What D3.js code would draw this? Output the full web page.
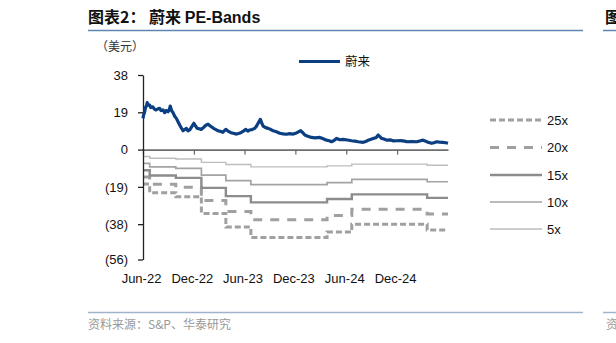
<!DOCTYPE html>
<html><head><meta charset="utf-8">
<script src="https://cdn.jsdelivr.net/npm/d3@7"></script>
<style>
html,body{margin:0;padding:0;background:#fff;}
svg{display:block;}
</style></head>
<body><svg id="c" width="616" height="343"></svg>
<script>
// ---- data ----
const priceDates = ["2022-06-01","2022-06-03","2022-06-07","2022-06-10","2022-06-14","2022-06-16","2022-06-21","2022-06-25","2022-06-29","2022-07-06","2022-07-12","2022-07-18","2022-07-25","2022-07-31","2022-08-05","2022-08-12","2022-08-18","2022-08-24","2022-08-30","2022-09-04","2022-09-07","2022-09-12","2022-09-17","2022-09-23","2022-09-29","2022-10-05","2022-10-11","2022-10-17","2022-10-23","2022-10-28","2022-11-04","2022-11-10","2022-11-16","2022-11-23","2022-12-01","2022-12-07","2022-12-13","2022-12-20","2022-12-27","2023-01-05","2023-01-13","2023-01-21","2023-01-27","2023-02-02","2023-02-10","2023-02-18","2023-02-26","2023-03-06","2023-03-15","2023-03-20","2023-03-26","2023-04-03","2023-04-13","2023-04-22","2023-05-01","2023-05-10","2023-05-19","2023-05-28","2023-06-06","2023-06-13","2023-06-20","2023-06-28","2023-07-08","2023-07-14","2023-07-20","2023-07-28","2023-08-02","2023-08-07","2023-08-16","2023-08-25","2023-09-04","2023-09-12","2023-09-24","2023-10-06","2023-10-18","2023-10-30","2023-11-10","2023-11-23","2023-12-05","2023-12-20","2023-12-28","2024-01-04","2024-01-15","2024-01-28","2024-02-10","2024-02-27","2024-03-08","2024-03-22","2024-04-01","2024-04-09","2024-04-18","2024-04-27","2024-05-09","2024-05-21","2024-06-05","2024-06-20","2024-07-02","2024-07-14","2024-08-01","2024-08-10","2024-08-19","2024-09-06","2024-09-16","2024-09-24","2024-09-30","2024-10-06","2024-10-15","2024-10-24","2024-11-08","2024-11-18","2024-11-30","2024-12-14","2024-12-28","2025-01-05","2025-01-20","2025-02-10","2025-02-20","2025-03-04","2025-03-14","2025-03-22","2025-04-04","2025-04-12","2025-04-22","2025-05-02","2025-05-15","2025-05-25","2025-06-02"];
const priceValues = [15.9,17.5,19.3,21.5,22.4,23.9,22.6,22.7,21.4,21.8,20.6,20.2,20.8,21.0,19.9,20.2,18.8,19.9,19.3,20.5,22.2,19.8,18.8,17.0,15.9,14.2,12.5,11.0,9.6,10.1,10.8,9.5,10.0,11.6,13.4,12.0,10.8,10.6,10.3,11.3,12.4,13.0,12.2,11.6,10.8,10.2,9.6,9.3,8.8,9.5,10.3,9.4,8.6,8.3,7.9,8.2,8.6,9.4,10.3,9.4,10.0,10.2,10.8,11.9,13.4,15.4,13.6,12.0,11.2,10.8,10.2,9.6,9.1,8.3,8.0,7.8,8.1,7.9,8.5,9.6,8.6,7.4,6.8,6.2,6.0,6.2,5.6,4.8,4.5,4.0,4.6,5.7,5.0,5.2,4.9,4.5,4.3,4.0,3.7,4.1,4.8,5.7,6.0,7.4,6.6,5.7,5.4,4.8,4.9,4.4,4.5,4.6,4.3,4.0,4.1,4.0,4.4,4.8,4.3,3.7,3.2,3.5,4.0,3.8,3.7,3.5,3.2];

// band step dates (each value holds from its date until the next)
const bandDates = ["2022-06-01","2022-06-25","2022-09-27","2022-12-28","2023-03-26","2023-06-24","2024-03-24","2024-06-21","2025-03-19","2025-06-02"];
const band5x  = [-3.5,-4.4,-4.8,-6.5,-7.6,-8.8,-8.3,-7.4,-8.0,-8.0];
const band10x = [-7.0,-8.8,-9.6,-13.0,-15.8,-17.9,-16.8,-15.2,-16.4,-16.4];
const band15x = [-10.5,-13.2,-14.4,-19.5,-23.7,-26.9,-25.2,-22.8,-24.6,-24.6];
const band20x = [-14.0,-17.6,-19.2,-26.0,-31.6,-35.8,-33.6,-30.4,-32.8,-32.8];
const band25x = [-17.5,-22.0,-24.0,-32.5,-39.5,-44.8,-42.0,-38.0,-41.0,-41.0];

const yTicks = [38,19,0,-19,-38,-56];
const xTickDates = ["2022-06-01","2022-12-01","2023-06-01","2023-12-01","2024-06-01","2024-12-01"];
const xTickLabels = ["Jun-22","Dec-22","Jun-23","Dec-23","Jun-24","Dec-24"];
const seriesName = "蔚来";
const bandNames = ["25x","20x","15x","10x","5x"];

// ---- drawing ----
const parse = d3.timeParse("%Y-%m-%d");
const svg = d3.select("#c");
const FONT = "'Liberation Sans', Arial, 'Noto Sans CJK SC', sans-serif";
const CJK = "'Noto Sans CJK SC', 'Liberation Sans', sans-serif";

svg.append("rect").attr("width",616).attr("height",343).attr("fill","#fff");

const x = d3.scaleTime().domain([parse("2022-06-01"), parse("2025-06-02")]).range([143, 448]);
const y = d3.scaleLinear().domain([-56, 38]).range([259.5, 75]);

// header
const title = svg.append("text").attr("x",88).attr("y",23).attr("font-weight","bold").attr("font-size",16).attr("fill","#111");
title.append("tspan").attr("font-family",CJK).text("图表2：  蔚来 ");
title.append("tspan").attr("font-family",FONT).text("PE-Bands");
svg.append("line").attr("x1",88).attr("x2",583).attr("y1",30.5).attr("y2",30.5).attr("stroke","#5f86b3").attr("stroke-width",1.5);
svg.append("line").attr("x1",603).attr("x2",616).attr("y1",30.5).attr("y2",30.5).attr("stroke","#5f86b3").attr("stroke-width",1.5);
svg.append("text").attr("x",605).attr("y",23).attr("font-family",CJK).attr("font-weight","bold")
  .attr("font-size",16).attr("fill","#111").text("图");
svg.append("text").attr("x",96).attr("y",51).attr("font-family",CJK)
  .attr("font-size",12).attr("fill","#333").text("（美元）");

// footer
svg.append("line").attr("x1",88).attr("x2",583).attr("y1",312.5).attr("y2",312.5).attr("stroke","#9fb4cc").attr("stroke-width",1.5);
svg.append("line").attr("x1",603).attr("x2",616).attr("y1",312.5).attr("y2",312.5).attr("stroke","#9fb4cc").attr("stroke-width",1.5);
svg.append("text").attr("x",88).attr("y",329).attr("font-family",CJK)
  .attr("font-size",12).attr("fill","#999").text("资料来源：S&P、华泰研究");
svg.append("text").attr("x",606).attr("y",329).attr("font-family",CJK)
  .attr("font-size",12).attr("fill","#999").text("资");

// bands
const bandStyles = [
  {name:"25x", vals:band25x, color:"#a0a0a0", w:3, dash:"6,3"},
  {name:"20x", vals:band20x, color:"#a0a0a0", w:3, dash:"9,8"},
  {name:"15x", vals:band15x, color:"#8c8c8c", w:2.4, dash:null},
  {name:"10x", vals:band10x, color:"#a3a3a3", w:1.7, dash:null},
  {name:"5x",  vals:band5x,  color:"#bdbdbd", w:1.4, dash:null}
];
const stepLine = d3.line().x(d=>x(d[0])).y(d=>y(d[1])).curve(d3.curveStepAfter);
bandStyles.forEach(b=>{
  const pts = bandDates.map((d,i)=>[parse(d), b.vals[i]]);
  svg.append("path").attr("d", stepLine(pts)).attr("fill","none")
    .attr("stroke", b.color).attr("stroke-width", b.w)
    .attr("stroke-dasharray", b.dash);
});

// x axis line at zero with ticks
const xAxis = d3.axisBottom(x).tickValues(xTickDates.map(parse)).tickFormat("").tickSize(5).tickSizeOuter(0);
const gx = svg.append("g").attr("transform",`translate(0,${y(0)})`).call(xAxis);
gx.select(".domain").attr("stroke","#6e6e6e").attr("stroke-width",1.8);
gx.selectAll(".tick line").attr("stroke","#6e6e6e").attr("stroke-width",1.3);

// x labels at bottom
const xLab = d3.axisBottom(x).tickValues(xTickDates.map(parse))
  .tickFormat((d,i)=>xTickLabels[i]).tickSize(0).tickPadding(0);
const gxl = svg.append("g").attr("transform","translate(-2,274)").call(xLab);
gxl.select(".domain").remove();
gxl.selectAll("text").attr("font-family",FONT).attr("font-size",13).attr("fill","#111");

// y axis
const yAxis = d3.axisLeft(y).tickValues(yTicks).tickSize(5).tickPadding(10).tickSizeOuter(0)
  .tickFormat(d=> d<0 ? "(" + Math.abs(d) + ")" : String(d));
const gy = svg.append("g").attr("transform","translate(143,0)").call(yAxis);
gy.select(".domain").attr("stroke","#222").attr("stroke-width",1.3);
gy.selectAll(".tick line").attr("stroke","#222").attr("stroke-width",1.3);
gy.selectAll("text").attr("font-family",FONT).attr("font-size",13).attr("fill","#111");

// price line
const pts = priceDates.map((d,i)=>[parse(d), priceValues[i]]);
svg.append("path").attr("d", d3.line().x(d=>x(d[0])).y(d=>y(d[1]))(pts))
  .attr("fill","none").attr("stroke","#0b3f82").attr("stroke-width",3.2).attr("stroke-linejoin","round");

// top legend
svg.append("line").attr("x1",299).attr("x2",340).attr("y1",61.5).attr("y2",61.5).attr("stroke","#0b3f82").attr("stroke-width",3);
svg.append("text").attr("x",345).attr("y",66).attr("font-family",CJK).attr("font-size",12.5).attr("fill","#111").text(seriesName);

// right legend
const legY = [120,147.5,175,202,229];
bandStyles.forEach((b,i)=>{
  svg.append("line").attr("x1",490).attr("x2",542).attr("y1",legY[i]).attr("y2",legY[i])
    .attr("stroke",b.color).attr("stroke-width",b.w).attr("stroke-dasharray",b.dash);
  svg.append("text").attr("x",547).attr("y",legY[i]+4.5).attr("font-family",FONT)
    .attr("font-size",13).attr("fill","#111").text(bandNames[i]);
});
</script></body></html>
